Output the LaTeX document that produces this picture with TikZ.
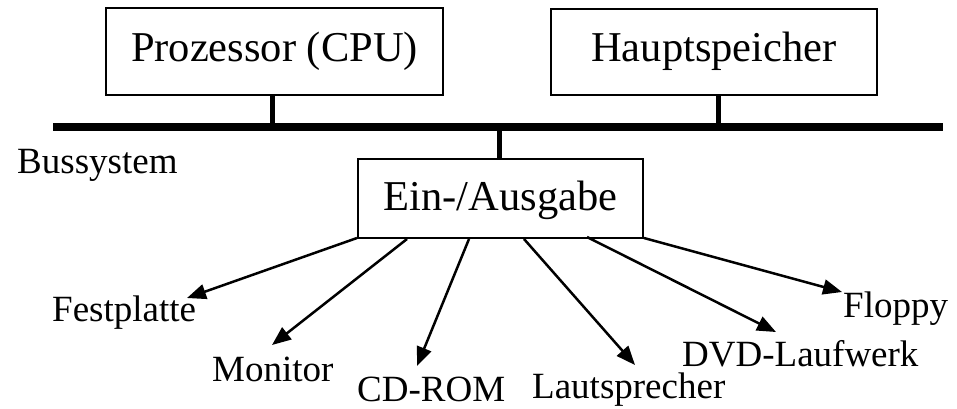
\documentclass[tikz,border=0pt]{standalone}
\usepackage{fontspec}
\setmainfont{Liberation Serif}
\usetikzlibrary{arrows.meta}
\begin{document}
\begin{tikzpicture}[x=1pt,y=-1pt,
  boxnode/.style={draw,line width=2pt,inner sep=0pt,font=\fontsize{42.5}{50}\selectfont},
  lbl/.style={anchor=base west,inner sep=0pt,font=\fontsize{37}{44}\selectfont},
  bus/.style={line width=8pt},
  stub/.style={line width=5pt},
  arr/.style={line width=2.5pt,-{Triangle[length=19pt,width=15pt]}}]
\useasboundingbox (0,0) rectangle (957,408);
\node[boxnode,minimum width=337pt,minimum height=87pt,text height=29pt,text depth=10pt] (cpu) at (274.5,51.5) {Prozessor (CPU)};
\node[boxnode,minimum width=326pt,minimum height=86pt,text height=29pt,text depth=10pt] (ram) at (714,52) {Hauptspeicher};
\node[boxnode,minimum width=285pt,minimum height=79pt,text height=29pt,text depth=6pt] (io) at (500.5,198.5) {Ein-/Ausgabe};
\coordinate (busL) at (53,127);
\coordinate (busR) at (943,127);
\draw[bus] (busL) -- (busR);
\draw[stub] ([xshift=-2.5pt]cpu.south) -- ([xshift=-2.5pt]cpu.south |- busL);
\draw[stub] ([xshift=4pt]ram.south) -- ([xshift=4pt]ram.south |- busL);
\draw[stub] ([xshift=-1.5pt]io.north) -- ([xshift=-1.5pt]io.north |- busL);
\node[lbl] (bussys) at (17,173) {Bussystem};
\node[lbl] (lfest) at (52,321.7) {Festplatte};
\node[lbl] (lmon) at (212,381) {Monitor};
\node[lbl] (lcd) at (357,401.5) {CD-ROM};
\node[lbl] (llaut) at (532,398) {Lautsprecher};
\node[lbl] (ldvd) at (682,366) {DVD-Laufwerk};
\node[lbl] (lflop) at (843,317) {Floppy};
\coordinate (tfest) at (187,298);
\coordinate (tmon) at (272,345);
\coordinate (tcd) at (417,366);
\coordinate (tlaut) at (635,365);
\coordinate (tdvd) at (776,332);
\coordinate (tflop) at (842,292);
\draw[arr] ([yshift=1pt]io.south west) -- (tfest);
\draw[arr] ([xshift=50pt]io.south west) -- (tmon);
\draw[arr] ([xshift=112pt]io.south west) -- (tcd);
\draw[arr] ([xshift=167pt]io.south west) -- (tlaut);
\draw[arr] ([xshift=230pt,yshift=2pt]io.south west) -- (tdvd);
\draw[arr] ([yshift=1pt]io.south east) -- (tflop);
\end{tikzpicture}
\end{document}
